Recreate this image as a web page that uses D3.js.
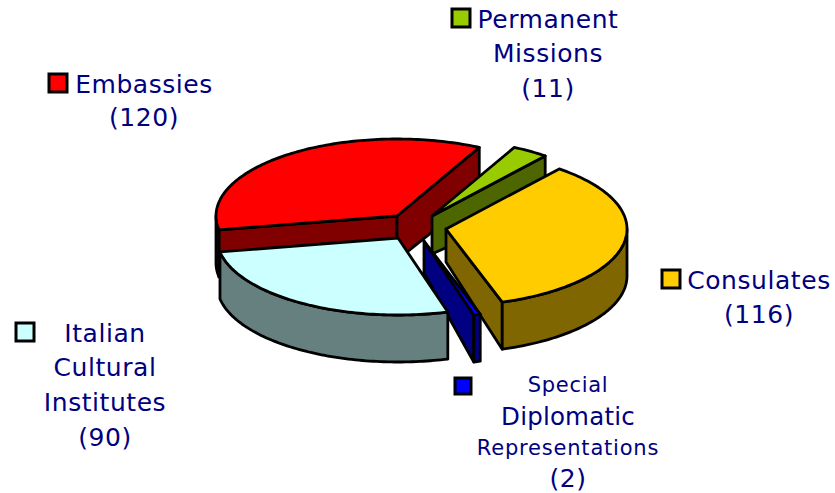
<!DOCTYPE html>
<html><head><meta charset="utf-8">
<script src="https://cdnjs.cloudflare.com/ajax/libs/d3/7.8.5/d3.min.js"></script>
<style>html,body{margin:0;padding:0;background:#fff}svg{display:block}</style>
</head><body><div id="c"></div>
<script>
const categories = ["Embassies","Permanent Missions","Consulates","Special Diplomatic Representations","Italian Cultural Institutes"];
const values = [120,11,116,2,90];
const topColors = ["#ff0000","#99cc00","#ffcc00","#0000ff","#ccffff"];
const sideColors = ["#800000","#4d6600","#806600","#000080","#668080"];

// layout: exploded apex of each slice, and depth at the apex
const apexX = [397,432,446,424,398];
const apexY = [216,216,229,241,238];
const apexDepth = [44,38,33,32,33];
const rimDepth = 47, rx = 181, ry = 77;
const drawOrder = [0,1,2,3,4];

const legend = [
 {key:[49,74,18], lines:[["Embassies",144,93,25,.55],["(120)",144,126,25,.55]]},
 {key:[452,9,18], lines:[["Permanent",548,28,25,.55],["Missions",548,62,25,.55],["(11)",548,97,25,.55]]},
 {key:[662,270,18], lines:[["Consulates",759,289,25,.55],["(116)",759,323,25,.55]]},
 {key:[455,378,16], lines:[["Special",568,392,21,.7],["Diplomatic",568,425,24.5,.2],["Representations",568,455,21,.8],["(2)",568,487,25,.55]]},
 {key:[16,323,18], lines:[["Italian",105,342,25,.55],["Cultural",105,376,25,.55],["Institutes",105,411,25,.55],["(90)",105,446,25,.55]]}
];

const W=835,H=493;
const svg=d3.select("#c").append("svg").attr("width",W).attr("height",H);

const rad=d=>d*Math.PI/180;
const start=rad(-100.4);
const arcs=d3.pie().sort(null).startAngle(start).endAngle(start+2*Math.PI)(values);
const sx=d3.scaleLinear().domain([-1,1]).range([-rx,rx]);
const sy=d3.scaleLinear().domain([-1,1]).range([-ry,ry]);
const line=d3.line();
const rim=(i,a,dz=0)=>[apexX[i]+sx(Math.sin(a)),apexY[i]-sy(Math.cos(a))+dz];
const rimPts=(i,a0,a1,dz=0)=>{
  const n=Math.max(2,Math.ceil(Math.abs(a1-a0)/0.02));
  return d3.range(n+1).map(k=>rim(i,a0+(a1-a0)*k/n,dz));
};
const stroke={stroke:"#000","stroke-width":2.8,"stroke-linejoin":"round"};
const paint=(sel,fill,pts,close=true)=>{
  const p=sel.append("path").attr("d",line(pts)+(close?"Z":"")).attr("fill",fill);
  Object.entries(stroke).forEach(([k,v])=>p.attr(k,v));
};

const g=svg.append("g");
drawOrder.forEach(i=>{
  const s=arcs[i],a0=s.startAngle,a1=s.endAngle;
  const ax=apexX[i],ay=apexY[i],ad=apexDepth[i];
  const gs=g.append("g").attr("class","slice");
  // cut faces that look towards the viewer
  if(Math.sin(a0)<0) paint(gs,sideColors[i],[[ax,ay],rim(i,a0),rim(i,a0,rimDepth),[ax,ay+ad]]);
  if(Math.sin(a1)>0) paint(gs,sideColors[i],[[ax,ay],rim(i,a1),rim(i,a1,rimDepth),[ax,ay+ad]]);
  // outer wall, front half only
  const norm=a=>((a%(2*Math.PI))+2*Math.PI)%(2*Math.PI);
  let w0=norm(a0),w1=w0+(a1-a0);
  const lo=Math.max(w0,Math.PI/2),hi=Math.min(w1,3*Math.PI/2);
  if(hi>lo){
    paint(gs,sideColors[i],rimPts(i,lo,hi).concat(rimPts(i,hi,lo,rimDepth)));
  }
  // top
  paint(gs,topColors[i],[[ax,ay]].concat(rimPts(i,a0,a1)));
});

const lg=svg.append("g").attr("font-family","'DejaVu Sans',sans-serif").attr("fill","#000080");
legend.forEach((l,i)=>{
  lg.append("rect").attr("x",l.key[0]).attr("y",l.key[1]).attr("width",l.key[2]).attr("height",l.key[2])
    .attr("fill",topColors[i]).attr("stroke","#000").attr("stroke-width",3);
  l.lines.forEach(t=>{
    lg.append("text").attr("x",t[1]).attr("y",t[2]).attr("text-anchor","middle").attr("font-size",t[3]).attr("letter-spacing",t[4]).text(t[0]);
  });
});
</script></body></html>
